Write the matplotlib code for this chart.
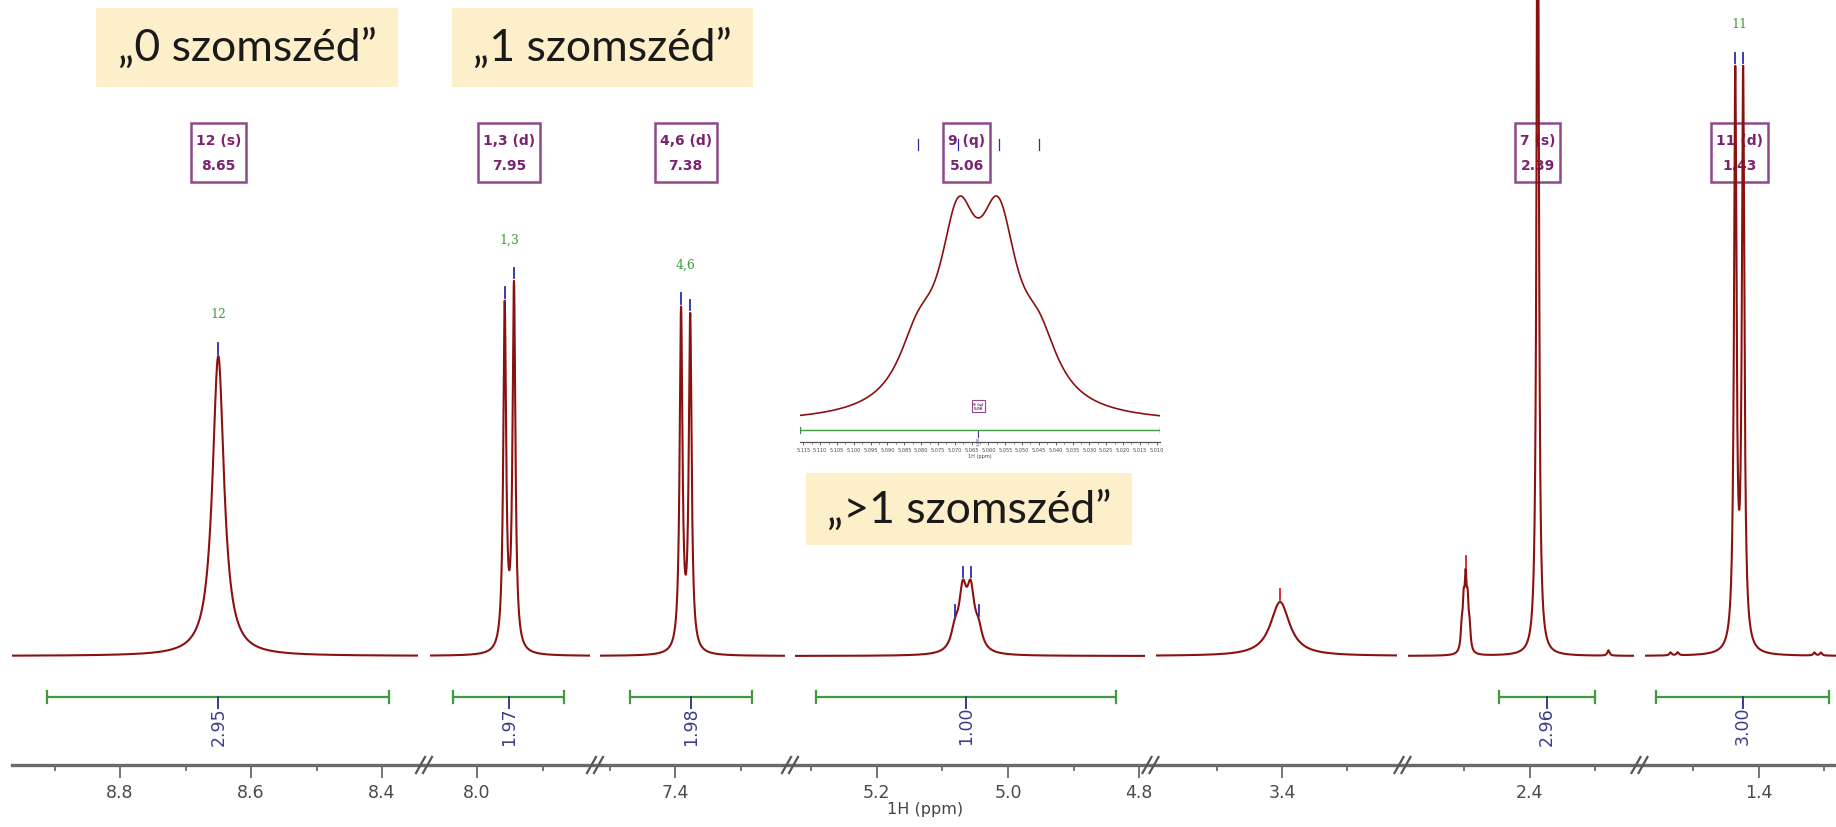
import numpy as np
import matplotlib
matplotlib.use("Agg")
import matplotlib.pyplot as plt
from matplotlib.ticker import MultipleLocator, FormatStrFormatter
from matplotlib.lines import Line2D
from matplotlib.patches import Rectangle
from matplotlib.path import Path

# ---------------- spectrum data (ppm / arbitrary intensity) ----------------
MULT_LABELS = ["12", "1,3", "4,6", "9", "7", "11"]
MULT_KINDS = ["s", "d", "d", "q", "s", "d"]
MULT_SHIFTS = [8.650, 7.951, 7.384, 5.063, 2.388, 1.430]
MULT_J = [0.0, 0.014, 0.014, 0.012, 0.0, 0.012]
MULT_HEIGHTS = [[50.0], [57.2, 60.6], [56.4, 55.3], [3.1, 9.3, 9.3, 3.1], [150.0], [95.0, 95.0]]
MULT_WIDTHS = [0.0107, 0.0026, 0.0026, 0.0070, 0.0020, 0.0023]

# residual solvent quintet
SOLVENT_SHIFTS = [2.492, 2.495, 2.498, 2.501, 2.504]
SOLVENT_HEIGHTS = [3.4, 6.9, 10.3, 6.9, 3.4]
SOLVENT_WIDTH = 0.0018

# broad exchangeable signal and small impurities
OTHER_SHIFTS = [3.403, 2.280, 1.535, 1.524, 1.315, 1.305]
OTHER_HEIGHTS = [9.0, 0.9, 0.5, 0.5, 0.5, 0.5]
OTHER_WIDTHS = [0.018, 0.002, 0.002, 0.002, 0.002, 0.002]
PICKED_OTHER = [3.403, 2.498]

# integrals
INT_FROM = [8.911, 8.036, 7.469, 5.293, 2.447, 1.557]
INT_TO = [8.389, 7.868, 7.283, 4.835, 2.301, 1.292]
INT_VALUES = [2.95, 1.97, 1.98, 1.00, 2.96, 3.00]

# displayed ppm windows of the cut spectrum and of the zoomed quartet
SEG_PPM = [(8.965, 8.345), (8.071, 7.829), (7.515, 7.232), (5.325, 4.791),
           (3.594, 3.223), (2.586, 2.241), (1.574, 1.282)]
INSET_PPM = (5.116, 5.009)

CALLOUTS = ["\u201e0 szomszéd\u201d", "\u201e1 szomszéd\u201d", "\u201e>1 szomszéd\u201d"]

# ---------------- layout / style ----------------
W, H = 1836, 828
SEG_PX = [(12, 418), (430, 590), (600, 785), (795, 1145), (1156, 1397), (1408, 1634), (1645, 1836)]
AXIS_Y = 766
BASE_Y = 657
UNIT = 6.0
YLIM = (-(AXIS_Y - BASE_Y) / UNIT, BASE_Y / UNIT)
CALLOUT_BOXES = [(96, 398, 9, 88), (452, 753, 9, 88), (806, 1132, 474, 546)]
INSET_BOX = (800, 1160, 130, 443)   # left, right, top, bottom (px)
INSET_BASE = 425                     # px row of the inset zero line

SPEC = "#8b1111"
GREEN = "#3f9b3f"
BLUE = "#2b2bb0"
NAVY = "#3b3b8c"
PURPLE_EDGE = "#8c4a8c"
PURPLE_TEXT = "#7b2270"
YELLOW = "#fcefca"
AXIS_COL = "#6a6a6a"

plt.rcParams["font.family"] = ["DejaVu Sans"]


class SquareXY:
    """Rectangular text box with separate horizontal / vertical padding."""

    def __init__(self, padx, pady):
        self.padx, self.pady = padx, pady

    def __call__(self, x0, y0, width, height, mutation_scale):
        px, py = self.padx * mutation_scale, self.pady * mutation_scale
        xa, ya = x0 - px, y0 - py
        xb, yb = x0 + width + px, y0 + height + py
        return Path([(xa, ya), (xb, ya), (xb, yb), (xa, yb), (xa, ya)], closed=True)


def lorentz(x, x0, h, g):
    return h * g ** 2 / ((x - x0) ** 2 + g ** 2)


OFFSETS = {"s": [0.0], "d": [0.5, -0.5], "q": [1.5, 0.5, -0.5, -1.5]}

mult_lines = []
for c, k, j, hs, g in zip(MULT_SHIFTS, MULT_KINDS, MULT_J, MULT_HEIGHTS, MULT_WIDTHS):
    mult_lines.append([(c + o * j, h, g) for o, h in zip(OFFSETS[k], hs)])

all_lines = [ln for group in mult_lines for ln in group]
all_lines += [(p, h, SOLVENT_WIDTH) for p, h in zip(SOLVENT_SHIFTS, SOLVENT_HEIGHTS)]
all_lines += list(zip(OTHER_SHIFTS, OTHER_HEIGHTS, OTHER_WIDTHS))


def spectrum(x):
    x = np.asarray(x, dtype=float)
    y = np.zeros_like(x)
    for p, h, g in all_lines:
        y += lorentz(x, p, h, g)
    return y


fig = plt.figure(figsize=(W / 100, H / 100), dpi=100)


def frac_rect(x0, x1, y_top, y_bot):
    return [x0 / W, 1 - y_bot / H, (x1 - x0) / W, (y_bot - y_top) / H]


seg_axes = []
for (left, right), (x0, x1) in zip(SEG_PPM, SEG_PX):
    ax = fig.add_axes(frac_rect(x0, x1, 0, AXIS_Y))
    ax.set_xlim(left, right)
    ax.set_ylim(*YLIM)
    ax.patch.set_visible(False)
    for s in ax.spines.values():
        s.set_visible(False)
    ax.yaxis.set_visible(False)
    ax.xaxis.set_major_locator(MultipleLocator(0.2))
    ax.xaxis.set_minor_locator(MultipleLocator(0.1))
    ax.xaxis.set_major_formatter(FormatStrFormatter("%.1f"))
    ax.tick_params(axis="x", which="major", direction="out", length=9, width=1.3,
                   color=AXIS_COL, labelsize=12.5, labelcolor="#4a4a4a", pad=4)
    ax.tick_params(axis="x", which="minor", direction="out", length=4, width=1.3, color=AXIS_COL)
    xs = np.linspace(left, right, 5000)
    ax.plot(xs, spectrum(xs), color=SPEC, lw=1.5, zorder=3)
    seg_axes.append(ax)


def seg_for(ppm):
    for ax, (l, r) in zip(seg_axes, SEG_PPM):
        if r <= ppm <= l:
            return ax
    return None


# multiplet annotations
for lab, kind, c, lines in zip(MULT_LABELS, MULT_KINDS, MULT_SHIFTS, mult_lines):
    ax = seg_for(c)
    ax.text(c, 84, f"{lab} ({kind})\n{c:.2f}", ha="center", va="center", fontsize=10,
            fontweight="bold", color=PURPLE_TEXT, linespacing=2.0, zorder=2,
            bbox=dict(boxstyle=SquareXY(0.35, 0.72), fc="white", ec=PURPLE_EDGE, lw=1.8))
    top = max(spectrum([p])[0] for p, _, _ in lines)
    if top + 8 < YLIM[1]:
        ax.text(c, top + 7, lab, ha="center", va="center", fontsize=9, color=GREEN,
                family="DejaVu Serif", zorder=2)
    for p, _, _ in lines:
        y0 = spectrum([p])[0] + 0.4
        ax.plot([p, p], [y0, y0 + 1.8], color=BLUE, lw=1.3, zorder=4)

for p in PICKED_OTHER:
    ax = seg_for(p)
    y0 = spectrum([p])[0] + 0.3
    ax.plot([p, p], [y0, y0 + 1.8], color="#d02020", lw=1.3, zorder=4)

# integrals
Y_INT = -6.83
for a, b, v in zip(INT_FROM, INT_TO, INT_VALUES):
    ax = seg_for(0.5 * (a + b))
    c = 0.5 * (a + b)
    ax.plot([a, b], [Y_INT, Y_INT], color=GREEN, lw=1.6, zorder=3)
    for e in (a, b):
        ax.plot([e, e], [Y_INT - 1.0, Y_INT + 1.0], color=GREEN, lw=1.6, zorder=3)
    ax.plot([c, c], [Y_INT, Y_INT - 1.8], color=NAVY, lw=1.4, zorder=3)
    ax.text(c, Y_INT - 1.5, f"{v:.2f}", rotation=90, ha="center", va="top",
            fontsize=12.5, color=NAVY, zorder=3)

# continuous ppm axis line with break marks
y_ax = 1 - AXIS_Y / H
fig.add_artist(Line2D([SEG_PX[0][0] / W, SEG_PX[-1][1] / W], [y_ax, y_ax],
                      transform=fig.transFigure, color=AXIS_COL, lw=2.4, zorder=2))
for (_, xa), (xb, _) in zip(SEG_PX[:-1], SEG_PX[1:]):
    xc = 0.5 * (xa + xb)
    for off in (-3.5, 3.5):
        fig.add_artist(Line2D([(xc + off - 4.5) / W, (xc + off + 4.5) / W],
                              [1 - (AXIS_Y + 8) / H, 1 - (AXIS_Y - 8) / H],
                              transform=fig.transFigure, color="#555555", lw=1.6, zorder=2))
fig.text(925 / W, 1 - 810 / H, "1H (ppm)", ha="center", va="center", fontsize=11.5, color="#444444")

# zoomed view of the quartet
il, ir, itop, ibot = INSET_BOX
ins = fig.add_axes(frac_rect(il, ir, itop, ibot))
ins.set_xlim(*INSET_PPM)
xi = np.linspace(INSET_PPM[0], INSET_PPM[1], 2000)
yi = spectrum(xi)
qmax = yi.max()
peak_px = INSET_BASE - 197
ins.set_ylim(-(ibot - INSET_BASE) / peak_px * qmax, (INSET_BASE - itop) / peak_px * qmax)
ins.patch.set_visible(False)
for k in ("top", "left", "right"):
    ins.spines[k].set_visible(False)
ins.spines["bottom"].set_color("#555555")
ins.spines["bottom"].set_linewidth(0.9)
ins.yaxis.set_visible(False)
ins.plot(xi, yi, color=SPEC, lw=1.2, zorder=3)
ins.xaxis.set_major_locator(MultipleLocator(0.005))
ins.xaxis.set_minor_locator(MultipleLocator(0.0025))
ins.xaxis.set_major_formatter(FormatStrFormatter("%.3f"))
ins.tick_params(axis="x", which="major", length=2.5, width=0.6, labelsize=3.6, pad=1.2,
                color="#555555", labelcolor="#444444")
ins.tick_params(axis="x", which="minor", length=1.5, width=0.5, color="#555555")
ins.set_xlabel("1H (ppm)", fontsize=3.6, labelpad=0.5, color="#444444")
yq = -0.026 * qmax
ins.plot(INSET_PPM, [yq, yq], color=GREEN, lw=1.0, zorder=3)
for e in INSET_PPM:
    ins.plot([e, e], [yq - 0.012 * qmax, yq + 0.012 * qmax], color=GREEN, lw=1.0, zorder=3)
qc = MULT_SHIFTS[3]
ins.plot([qc, qc], [yq, yq - 0.03 * qmax], color=NAVY, lw=0.8)
ins.text(qc, yq - 0.025 * qmax, f"{INT_VALUES[3]:.2f}", rotation=90, ha="center", va="top",
         fontsize=3.2, color=NAVY)
ins.text(qc, 0.079 * qmax, f"{MULT_LABELS[3]} ({MULT_KINDS[3]})\n{qc:.2f}", ha="center",
         va="center", fontsize=2.8, fontweight="bold", color=PURPLE_TEXT, linespacing=1.3,
         bbox=dict(boxstyle="square,pad=0.3", fc="white", ec=PURPLE_EDGE, lw=0.8))
for p, _, _ in mult_lines[3]:
    ins.plot([p, p], [1.20 * qmax, 1.25 * qmax], color=BLUE, lw=0.9)

# callout boxes
for txt, (x0, x1, yt, yb) in zip(CALLOUTS, CALLOUT_BOXES):
    fig.add_artist(Rectangle((x0 / W, 1 - yb / H), (x1 - x0) / W, (yb - yt) / H,
                             transform=fig.transFigure, fc=YELLOW, ec="none", zorder=10))
    fig.text((x0 + x1) / 2 / W, 1 - (yt + yb) / 2 / H, txt, ha="center", va="center",
             fontsize=32, family=["Lato", "DejaVu Sans"], color="#1a1a1a", zorder=11)

fig.savefig("out.png", dpi=100, facecolor="white")
